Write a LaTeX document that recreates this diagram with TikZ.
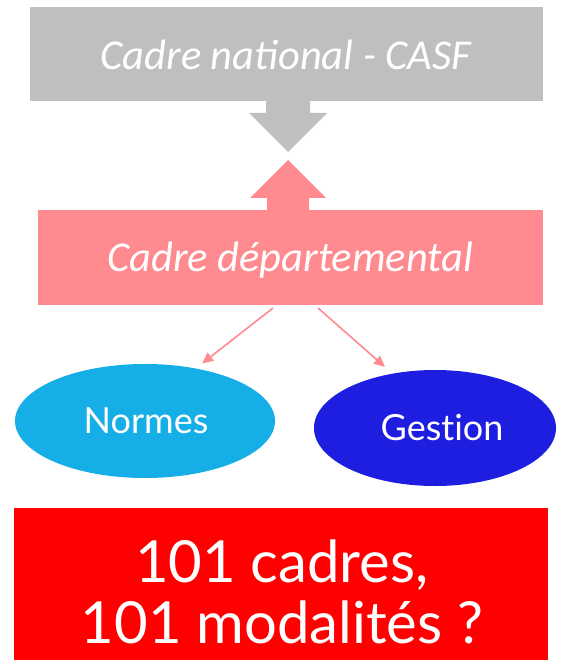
\documentclass[tikz,border=0pt]{standalone}
\usepackage{fontspec}
\setmainfont{Carlito}
\newfontfamily\lato[Ligatures={NoCommon,NoRare}]{Lato}
\usetikzlibrary{shapes.geometric,arrows.meta}
\definecolor{grisbox}{HTML}{BFBFBF}
\definecolor{rosebox}{HTML}{FF8A8F}
\definecolor{cyanell}{HTML}{16AEE6}
\definecolor{bleuell}{HTML}{1E1EE0}
\definecolor{rougebox}{HTML}{FF0000}
\tikzset{
  boxtext/.style={text=white, font=\itshape\fontsize{42.5}{46}\selectfont},
  elltext/.style={text=white, font=\lato\fontsize{36}{40}\selectfont},
  pinkarrow/.style={draw=rosebox, line width=1.6pt, -{Triangle[length=11pt,width=10pt]}}
}
\begin{document}
\begin{tikzpicture}[x=1pt,y=-1pt]
\useasboundingbox (0,0) rectangle (567,660);
% gray box
\fill[grisbox] (30,7) rectangle (543,101);
\node[boxtext] (nat) at (286,55) {Cadre national - CASF};
% gray down arrow
\fill[grisbox] (266,101) -- (310,101) -- (310,113) -- (327,113) -- (288,152) -- (249,113) -- (266,113) -- cycle;
% pink up arrow
\fill[rosebox] (288,160) -- (326,198) -- (309,198) -- (309,210) -- (267,210) -- (267,198) -- (250,198) -- cycle;
% pink box
\fill[rosebox] (38,210) rectangle (543,305);
\node[boxtext] (dep) at (290,260) {Cadre départemental};
% ellipses
\node[ellipse, fill=cyanell, minimum width=260pt, minimum height=114pt, inner sep=0pt] (nor) at (145,421) {};
\node[elltext] (norT) at (146,421) {Normes};
\node[ellipse, fill=bleuell, minimum width=242pt, minimum height=116pt, inner sep=0pt] (ges) at (435,428) {};
\node[elltext] (gesT) at (442,428) {Gestion};
\coordinate (a1) at (273,308);
\coordinate (a2) at (318,308);
\draw[pinkarrow, shorten >=8pt] (a1) -- (nor.46);
\draw[pinkarrow, shorten >=10pt] (a2) -- (ges.128);
% red box
\fill[rougebox] (14,508) rectangle (548,660);
\node[text=white, font=\lato\fontsize{58}{61}\selectfont, align=center] (q) at (282,592) {101 cadres,\\101 modalités ?};
\end{tikzpicture}
\end{document}
